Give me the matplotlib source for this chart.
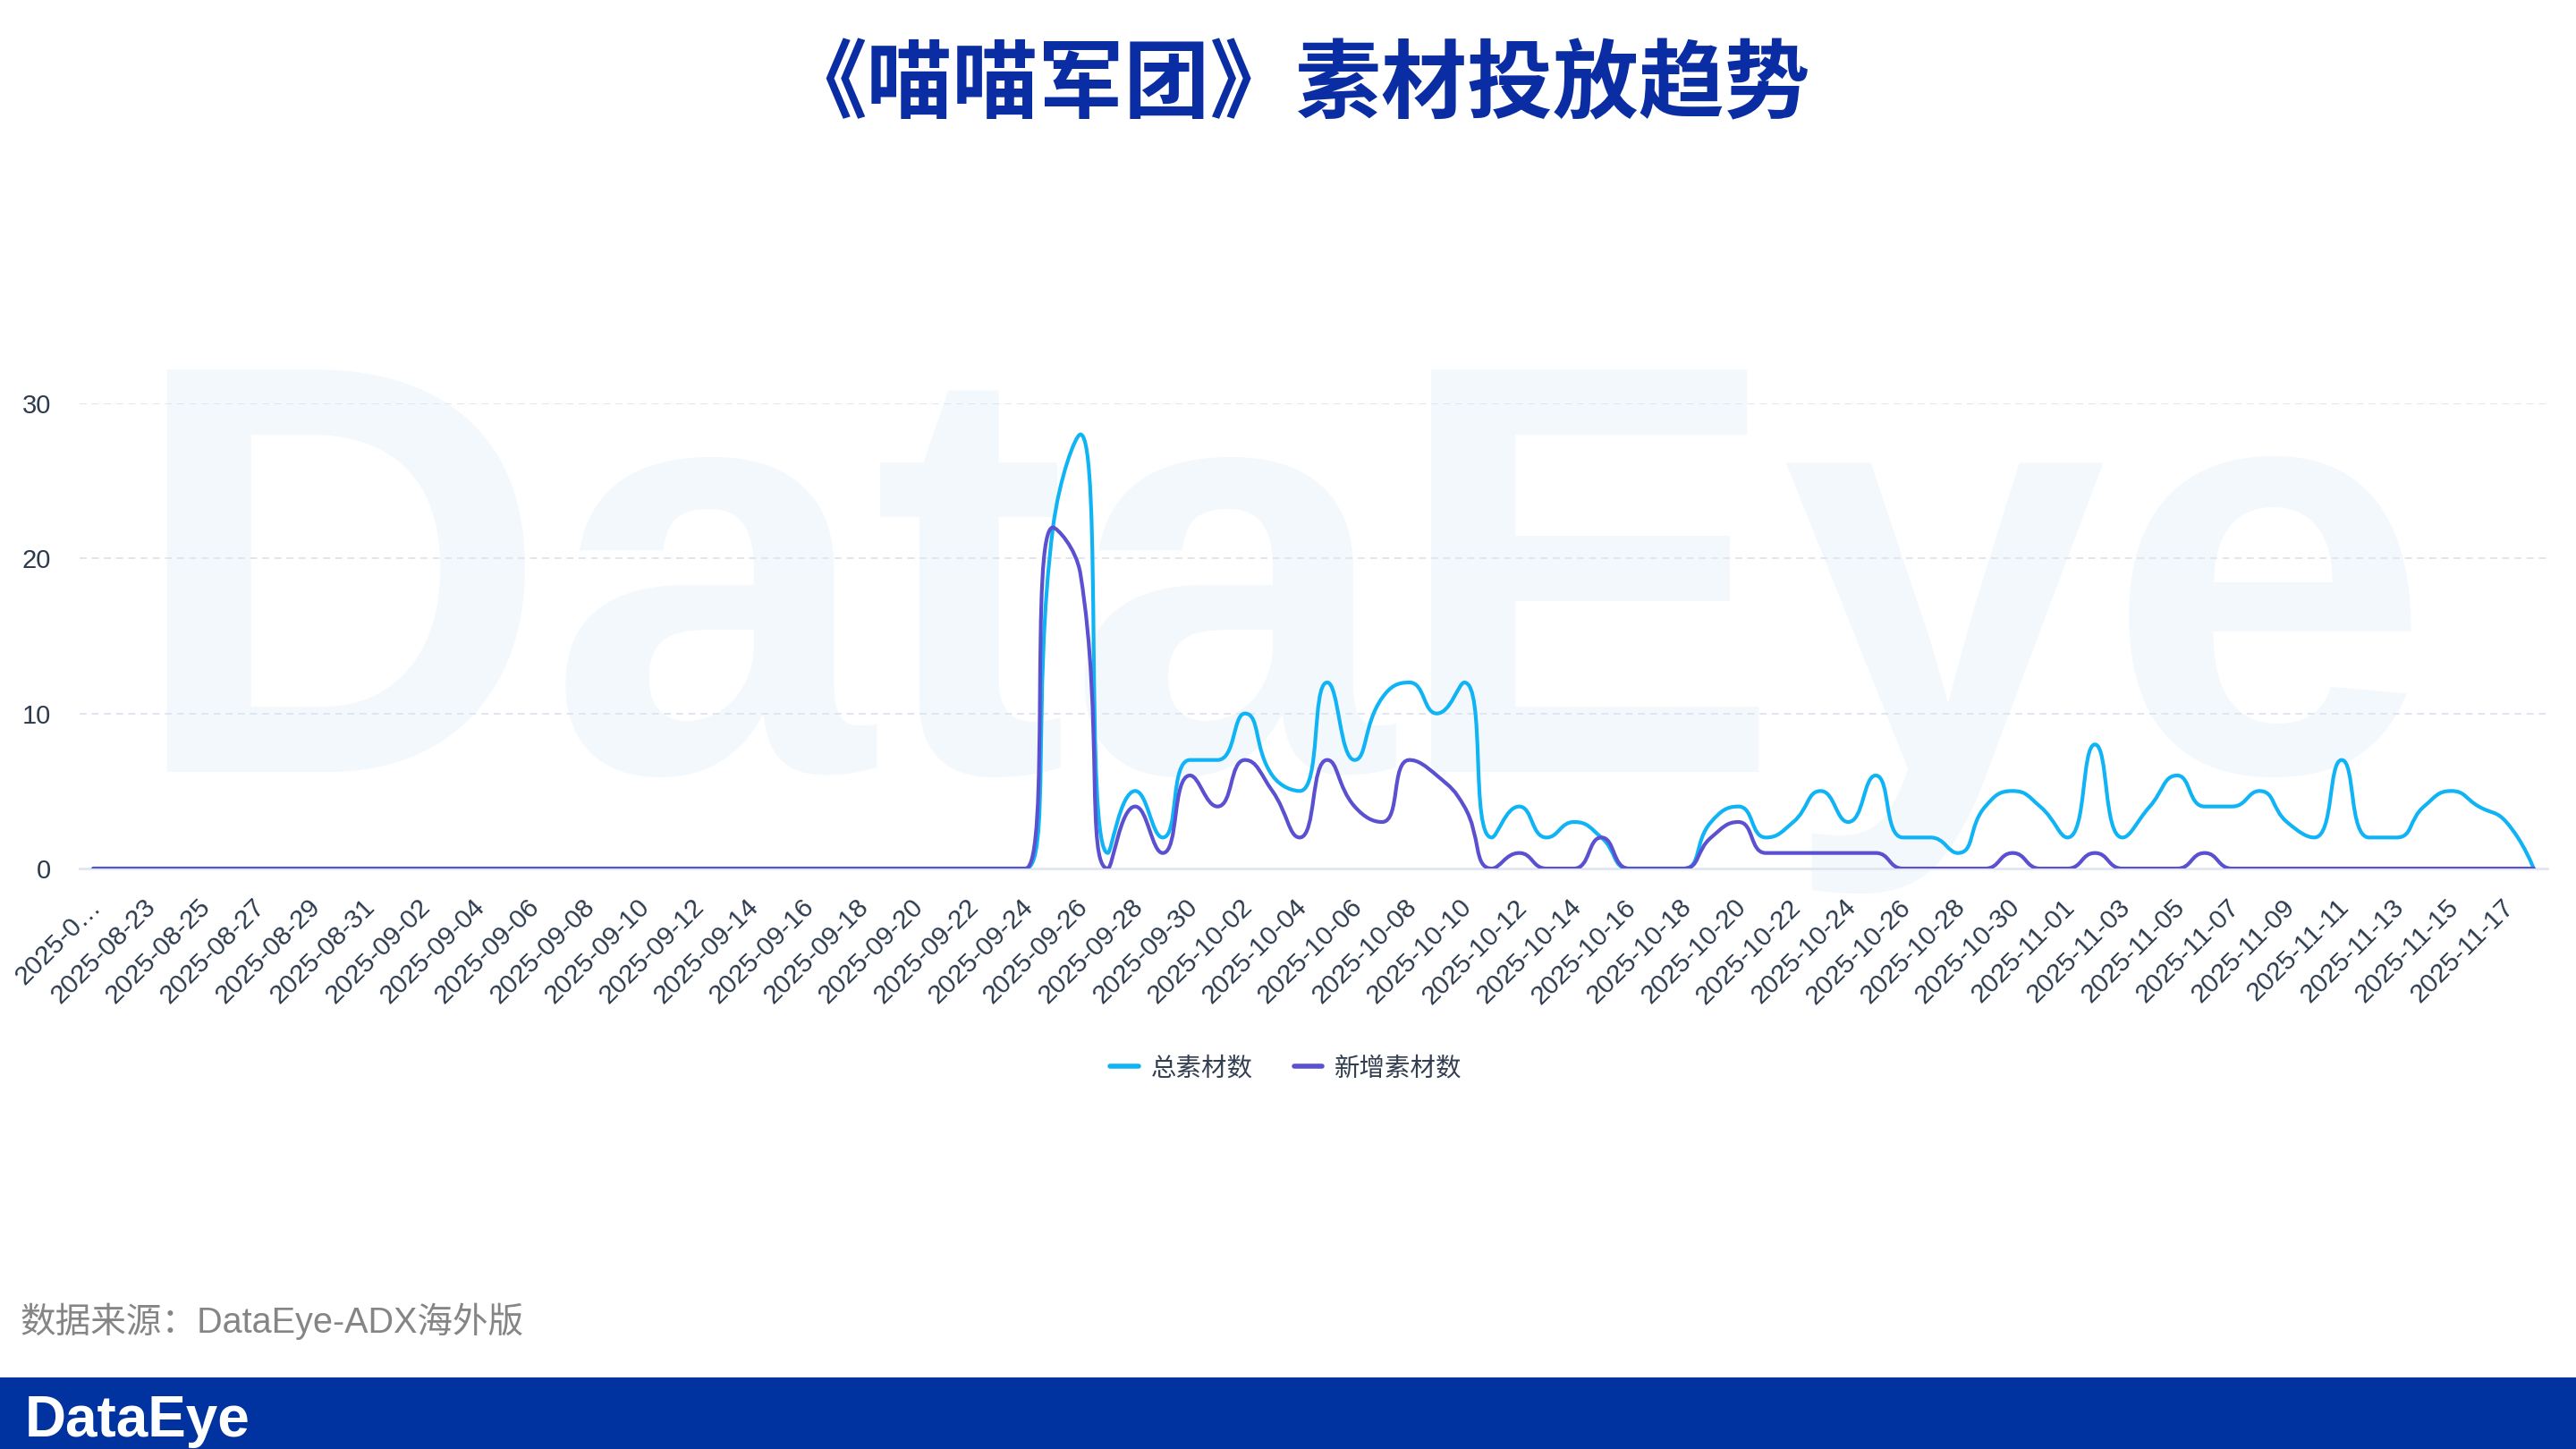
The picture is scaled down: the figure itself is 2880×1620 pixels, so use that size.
import numpy as np
import pandas as pd
import matplotlib
matplotlib.use("Agg")
import matplotlib.pyplot as plt
from matplotlib.path import Path
from matplotlib.patches import PathPatch, Rectangle
from matplotlib.lines import Line2D
from matplotlib.transforms import ScaledTranslation

plt.rcParams['font.family'] = ['Liberation Sans', 'Noto Sans CJK SC', 'DejaVu Sans']

# categories: one point per day
dates = pd.date_range("2025-08-21", "2025-11-18", freq="D").strftime("%Y-%m-%d").tolist()

# 总素材数
total = [0] * 35 + [
    22, 28, 1, 5, 2, 7,                                   # 09-25 .. 09-30
    7, 10, 6, 5, 12, 7, 11, 12, 10, 12,                   # 10-01 .. 10-10
    2, 4, 2, 3, 2, 0, 0, 0, 3, 4,                         # 10-11 .. 10-20
    2, 3, 5, 3, 6, 2, 2, 1, 4, 5, 4,                      # 10-21 .. 10-31
    2, 8, 2, 4, 6, 4, 4, 5, 3, 2,                         # 11-01 .. 11-10
    7, 2, 2, 4, 5, 4, 3, 0,                               # 11-11 .. 11-18
]
# 新增素材数
new = [0] * 35 + [
    22, 19, 0, 4, 1, 6,
    4, 7, 5, 2, 7, 4, 3, 7, 6, 4,
    0, 1, 0, 0, 2, 0, 0, 0, 2, 3,
    1, 1, 1, 1, 1, 0, 0, 0, 0, 1, 0,
    0, 1, 0, 0, 0, 1, 0, 0, 0, 0,
    0, 0, 0, 0, 0, 0, 0, 0,
]

series_names = ["总素材数", "新增素材数"]
series_colors = ["#10b4f4", "#5a50d0"]
yticks = [0, 10, 20, 30]

# tick labels every other day, first one clipped like the original
tick_idx = list(range(0, len(dates), 2))
tick_labels = [dates[i] for i in tick_idx]
tick_labels[0] = "2025-0…"


def smooth_path(x, y, sx, sy, smooth=0.5):
    # echarts-like smoothing (control points clamped to segment box), done in pixel space
    px = np.asarray(x, float) * sx
    py = np.asarray(y, float) * sy
    n = len(px)
    verts = [(px[0], py[0])]
    codes = [Path.MOVETO]
    c0x, c0y = px[0], py[0]
    for i in range(1, n):
        cx, cy = px[i], py[i]
        ax_, ay_ = px[i - 1], py[i - 1]
        if i == n - 1:
            c1x, c1y = cx, cy
            n0x, n0y = cx, cy
        else:
            bx, by = px[i + 1], py[i + 1]
            vx, vy = bx - ax_, by - ay_
            lp = np.hypot(cx - ax_, cy - ay_)
            ln = np.hypot(bx - cx, by - cy)
            r = ln / (ln + lp)
            n0x = cx + vx * smooth * r
            n0y = cy + vy * smooth * r
            n0x = max(min(n0x, max(bx, cx)), min(bx, cx))
            n0y = max(min(n0y, max(by, cy)), min(by, cy))
            vx, vy = n0x - cx, n0y - cy
            c1x = cx - vx * lp / ln
            c1y = cy - vy * lp / ln
            c1x = max(min(c1x, max(ax_, cx)), min(ax_, cx))
            c1y = max(min(c1y, max(ay_, cy)), min(ay_, cy))
            vx, vy = cx - c1x, cy - c1y
            n0x = cx + vx * ln / lp
            n0y = cy + vy * ln / lp
        verts += [(c0x, c0y), (c1x, c1y), (cx, cy)]
        codes += [Path.CURVE4] * 3
        c0x, c0y = n0x, n0y
    verts = np.array(verts)
    verts[:, 0] /= sx
    verts[:, 1] /= sy
    return Path(verts, codes)


W, H = 2880, 1620
fig = plt.figure(figsize=(28.8, 16.2), dpi=100)
fig.patch.set_facecolor("white")

# big faint watermark behind the plot
fig.text(142 / W, 1 - 863 / H, "DataEye", fontsize=470, fontweight="bold",
         color="#f3f8fd", ha="left", va="baseline", zorder=-5)

ax_l, ax_r, ax_t, ax_b = 89, 2848, 451, 971
ax = fig.add_axes([ax_l / W, 1 - ax_b / H, (ax_r - ax_l) / W, (ax_b - ax_t) / H])
ax.set_facecolor("none")

x = np.arange(len(dates))
ax.set_xlim(-0.5, len(dates) - 0.5)
ax.set_ylim(0, 30)

sx = (ax_r - ax_l) / len(dates)
sy = (ax_b - ax_t) / 30.0
for vals, col in zip([total, new], series_colors):
    p = smooth_path(x, vals, sx, sy)
    ax.add_patch(PathPatch(p, fill=False, edgecolor=col, lw=3.0,
                           capstyle="round", joinstyle="round", zorder=3))

# grid
for v in yticks[1:]:
    ax.axhline(v, color="#e0e6f1", lw=1.4, ls=(0, (4, 3)), zorder=1)
for s in ["top", "right", "left"]:
    ax.spines[s].set_visible(False)
ax.spines["bottom"].set_color("#e0e6f1")
ax.spines["bottom"].set_linewidth(2)

ax.set_yticks(yticks)
ax.set_yticklabels([str(v) for v in yticks])
ax.tick_params(axis="y", length=0, pad=23, labelsize=21, labelcolor="#2d3b4e")
ax.set_xticks(tick_idx)
ax.set_xticklabels(tick_labels)
ax.tick_params(axis="x", length=0, pad=28, labelsize=21.5, labelcolor="#2d3b4e")
off = ScaledTranslation(4 / 100, 0, fig.dpi_scale_trans)
for lab in ax.get_xticklabels():
    lab.set_rotation(45)
    lab.set_ha("right")
    lab.set_va("center")
    lab.set_rotation_mode("anchor")
    lab.set_transform(lab.get_transform() + off)

# legend
handles = [Line2D([0], [0], color=c, lw=4, solid_capstyle="round") for c in series_colors]
leg = fig.legend(handles, series_names, loc="center", bbox_to_anchor=(1438 / W, 1 - 1194 / H),
                 ncol=2, frameon=False, handlelength=1.1, handletextpad=0.5,
                 columnspacing=1.6, prop={"family": ["Noto Sans CJK SC"], "size": 20.5})
for t in leg.get_texts():
    t.set_color("#333f50")

# title
fig.text(0.503, 1 - 96 / H, "《喵喵军团》素材投放趋势", fontsize=69, fontweight="heavy",
         family=["Noto Sans CJK SC"], color="#0a2da3", ha="center", va="center")

# source note
fig.text(22 / W, 1 - 1477 / H, "数据来源：DataEye-ADX海外版", fontsize=28.5,
         color="#858585", ha="left", va="center")

# footer band with logo
fig.add_artist(Rectangle((0, 0), 1, 80 / H, transform=fig.transFigure,
                         facecolor="#0033a0", edgecolor="none", zorder=5))
fig.text(28 / W, 14 / H, "DataEye", fontsize=46, fontweight="bold", color="white",
         ha="left", va="baseline", zorder=6)

fig.savefig("out.png", dpi=100, facecolor="white")
